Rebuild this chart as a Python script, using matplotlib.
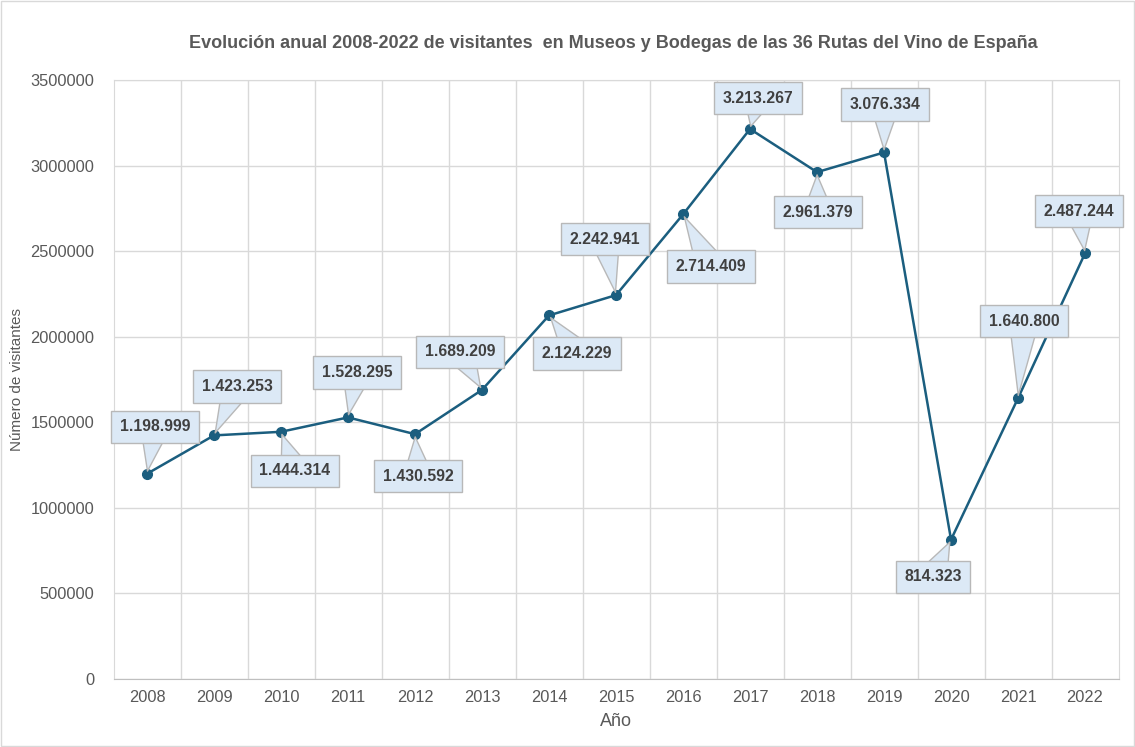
import matplotlib.pyplot as plt
from matplotlib.patches import Rectangle
from matplotlib.ticker import MultipleLocator, FixedLocator, StrMethodFormatter

years = ["2008", "2009", "2010", "2011", "2012", "2013", "2014", "2015",
         "2016", "2017", "2018", "2019", "2020", "2021", "2022"]
visitors = [1198999, 1423253, 1444314, 1528295, 1430592, 1689209, 2124229,
            2242941, 2714409, 3213267, 2961379, 3076334, 814323, 1640800,
            2487244]

# callout offsets (pixels, box centre relative to the point)
label_offsets = [(8, 47), (23, 49), (14, -39), (9, 45), (3, -42), (-22, 38),
                 (28, -38), (-11, 56), (28, -52), (8, 31), (1, -40), (1, 48),
                 (-18, -37), (6, 77), (-6, 42)]

LINE = "#1b5e7f"
GRID = "#d9d9d9"
TXT = "#595959"
BOX = "#dce9f6"

plt.rcParams["font.family"] = ["Liberation Sans", "DejaVu Sans"]

fig = plt.figure(figsize=(11.35, 7.47), dpi=100)
ax = fig.add_axes([0.1, 0.091, 0.8855, 0.802])

x = list(range(len(years)))
ax.plot(x, visitors, color=LINE, lw=1.8, marker="o", ms=7, zorder=3)

for xi, v, off in zip(x, visitors, label_offsets):
    label = f"{v:,}".replace(",", ".")
    ax.annotate(label, (xi, v), xytext=off, textcoords="offset pixels",
                ha="center", va="center", fontsize=11.3, fontweight="bold",
                color="#404040", zorder=4,
                bbox=dict(boxstyle="square,pad=0.55", fc=BOX, ec="#b8b8b8", lw=1),
                arrowprops=dict(arrowstyle="wedge,tail_width=1.9,shrink_factor=0.5",
                                fc=BOX, ec="#b8b8b8", lw=1, shrinkA=0, shrinkB=2,
                                patchA=None))

ax.set_xlim(-0.5, len(years) - 0.5)
ax.set_ylim(0, 3500000)
ax.yaxis.set_major_locator(MultipleLocator(500000))
ax.yaxis.set_major_formatter(StrMethodFormatter("{x:.0f}"))
ax.set_xticks(x)
ax.set_xticklabels(years)
ax.xaxis.set_minor_locator(FixedLocator([i + 0.5 for i in x[:-1]]))
ax.grid(True, which="major", axis="y", color=GRID, lw=1)
ax.grid(True, which="minor", axis="x", color=GRID, lw=1)
ax.set_axisbelow(True)
ax.tick_params(which="both", length=0, colors=TXT, labelsize=11.8, pad=8)
ax.tick_params(axis="y", pad=14)
for s in ax.spines.values():
    s.set_color(GRID)
ax.spines["bottom"].set_color("#bfbfbf")

ax.set_xlabel("Año", fontsize=13, color=TXT, labelpad=6)
ax.set_ylabel("Número de visitantes", fontsize=11, color=TXT, labelpad=4)

fig.text(0.54, 0.942, "Evolución anual 2008-2022 de visitantes  en Museos y Bodegas de las 36 Rutas del Vino de España",
         ha="center", va="center", fontsize=13, fontweight="bold", color=TXT,
         family=["Liberation Sans Narrow", "Liberation Sans", "DejaVu Sans"])

fig.patches.append(Rectangle((0.001, 0.001), 0.998, 0.998, transform=fig.transFigure,
                             fill=False, ec=GRID, lw=1))

fig.savefig("out.png", dpi=100)
